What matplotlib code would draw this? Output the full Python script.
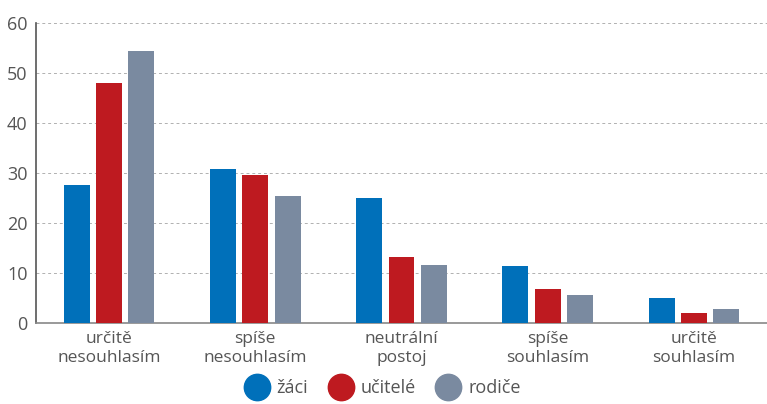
import matplotlib.pyplot as plt
import numpy as np
from matplotlib.lines import Line2D

plt.rcParams['font.family'] = ['Open Sans', 'DejaVu Sans']

# data
categories = ["určitě\nnesouhlasím", "spíše\nnesouhlasím", "neutrální\npostoj",
              "spíše\nsouhlasím", "určitě\nsouhlasím"]
zaci = [27.6, 30.8, 25.0, 11.4, 5.0]
ucitele = [48.0, 29.6, 13.2, 6.8, 2.0]
rodice = [54.4, 25.4, 11.6, 5.6, 2.8]
series_names = ["žáci", "učitelé", "rodiče"]
colors = ["#0070ba", "#be1a20", "#7a8aa0"]
text_col = "#555555"

fig = plt.figure(figsize=(7.67, 4.04), dpi=100)
ax = fig.add_axes([36 / 767, 1 - 323 / 404, 731 / 767, 300 / 404])

x = np.arange(len(categories))
w = 0.177
off = 0.221
for i, vals in enumerate([zaci, ucitele, rodice]):
    ax.bar(x + (i - 1) * off, vals, w, color=colors[i], zorder=3)

ax.set_xlim(-0.5, 4.5)
ax.set_ylim(0, 60)
ax.set_yticks(range(0, 61, 10))
ax.yaxis.grid(True, linestyle=(0, (3, 3)), color="#b0b0b0", linewidth=0.7)
ax.set_axisbelow(True)

ax.set_xticks(x)
ax.set_xticklabels(categories, fontsize=12.5, color=text_col, linespacing=1.25)
ax.tick_params(axis="x", length=0, pad=6)
ax.tick_params(axis="y", length=0, pad=6, labelsize=13, labelcolor=text_col)

for s in ["top", "right"]:
    ax.spines[s].set_visible(False)
ax.spines["left"].set_color("#555555")
ax.spines["left"].set_linewidth(1.2)
ax.spines["bottom"].set_color("#888888")
ax.spines["bottom"].set_linewidth(1.2)

handles = [Line2D([], [], marker="o", linestyle="", markersize=19,
                  markerfacecolor=c, markeredgecolor=c) for c in colors]
fig.legend(handles, series_names, loc="center", bbox_to_anchor=(0.495, 1 - 388 / 404),
           ncol=3, frameon=False, fontsize=13, handletextpad=0.1, columnspacing=0.8,
           labelcolor=text_col)

fig.savefig("out.png", dpi=100)
